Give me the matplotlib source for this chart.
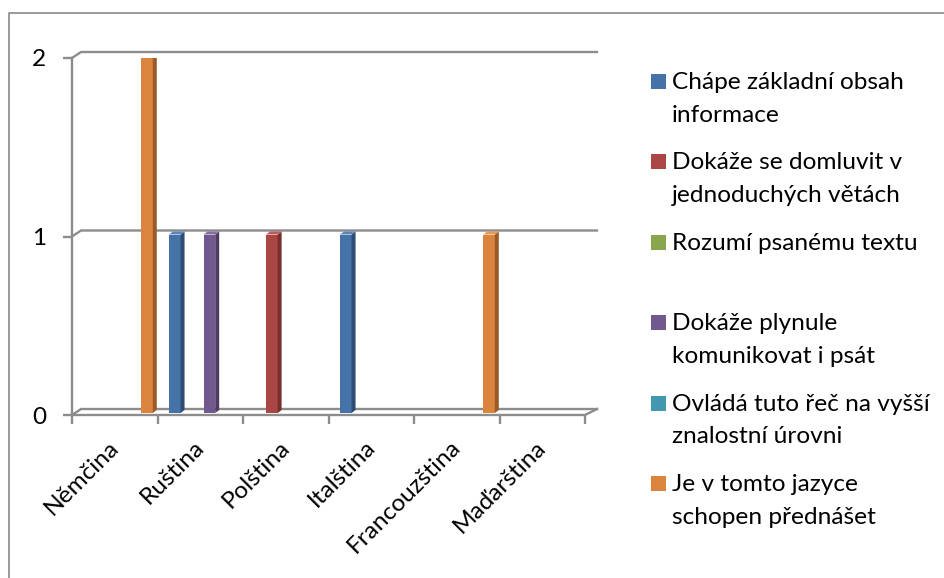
import numpy as np
import matplotlib.pyplot as plt
from matplotlib.patches import Rectangle
from matplotlib.lines import Line2D
from matplotlib import transforms

plt.rcParams['font.family'] = ['Lato', 'DejaVu Sans']

jazyky = ['Němčina', 'Ruština', 'Polština', 'Italština', 'Francouzština', 'Maďarština']
urovne = ['Chápe základní obsah\ninformace',
          'Dokáže se domluvit v\njednoduchých větách',
          'Rozumí psanému textu',
          'Dokáže plynule\nkomunikovat i psát',
          'Ovládá tuto řeč na vyšší\nznalostní úrovni',
          'Je v tomto jazyce\nschopen přednášet']
chape = [0, 1, 0, 1, 0, 0]
domluvi = [0, 0, 1, 0, 0, 0]
rozumi = [0, 0, 0, 0, 0, 0]
plynule = [0, 1, 0, 0, 0, 0]
ovlada = [0, 0, 0, 0, 0, 0]
prednasi = [2, 0, 0, 0, 1, 0]
serie = [chape, domluvi, rozumi, plynule, ovlada, prednasi]

barvy = ['#4572A7', '#AA4643', '#89A54E', '#71588F', '#4198AF', '#DB843D']
boky = ['#2E4D74', '#772F2D', '#5F7436', '#4E3D63', '#2C6A7A', '#9A5A2A']
vrchy = ['#5A86BC', '#BE5A57', '#9DBA62', '#866DA4', '#56ACC3', '#E89852']
seda = '#8C8C8C'
FS = 17.6

W, H = 944, 578
fig = plt.figure(figsize=(W / 100, H / 100), dpi=100)
ax = fig.add_axes([72 / W, 1 - 415 / H, 513 / W, 357 / H])
ax.set_xlim(0, 6)
ax.set_ylim(0, 2)

# one pixel in data units
px = 6 / 513
py = 2 / 357

# back wall gridlines and floor (pseudo 3D)
for y in [0, 1, 2]:
    ax.plot([0, 9 * px, 6 + 12 * px], [y, y + 6 * py, y + 6 * py],
            color=seda, lw=1.7, clip_on=False, solid_joinstyle='miter', zorder=1)
ax.plot([0, 6, 6 + 12 * px], [0, 0, 6 * py], color=seda, lw=1.7,
        clip_on=False, solid_joinstyle='miter', zorder=1)

for s in ['top', 'right', 'bottom']:
    ax.spines[s].set_visible(False)
ax.spines['left'].set_color(seda)
ax.spines['left'].set_linewidth(1.7)

# columns: front face from ax.bar, side and top faces as polygons
sirka = 11.55 * px
bdx, bdy = 4 * px, 3 * py
zdvih = 2 * py
for j, hodnoty in enumerate(serie):
    x0 = np.arange(len(jazyky)) + (11.5 * px + j * sirka)
    ax.bar(x0, hodnoty, width=sirka, bottom=zdvih, align='edge',
           color=barvy[j], zorder=3)
    for xa, v in zip(x0, hodnoty):
        if v == 0:
            continue
        xb = xa + sirka
        top = v + zdvih
        ax.fill([xb, xb + bdx, xb + bdx, xb], [zdvih, zdvih + bdy, top + bdy, top],
                color=boky[j], lw=0, zorder=3)
        ax.fill([xa, xa + bdx, xb + bdx, xb], [top, top + bdy, top + bdy, top],
                color=vrchy[j], lw=0, zorder=3)

ax.set_xticks(np.arange(7))
ax.set_xticklabels([])
ax.set_xticks(np.arange(6) + 0.5, minor=True)
ax.set_xticklabels(jazyky, minor=True, rotation=45, ha='right', va='baseline',
                   rotation_mode='anchor', fontsize=FS)
ax.tick_params(axis='x', which='major', length=6.5, width=1.7, color=seda)
ax.tick_params(axis='x', which='minor', length=0, pad=24)
posun = transforms.ScaledTranslation(5 / 100, 0, fig.dpi_scale_trans)
for t in ax.get_xticklabels(minor=True):
    t.set_transform(t.get_transform() + posun)

ax.set_yticks([0, 1, 2])
ax.set_yticklabels(['0', '1', '2'], fontsize=FS)
ax.tick_params(axis='y', length=6.5, width=1.7, color=seda, pad=12)

# legend: colour square + wrapped label, 32.6 px between text lines
for k, popis in enumerate(urovne):
    top = 74 + k * 80.4
    radky = popis.split('\n')
    fig.add_artist(Rectangle((651 / W, 1 - (top + 15) / H), 15 / W, 15 / H,
                             transform=fig.transFigure, color=barvy[k], lw=0))
    for r, radek in enumerate(radky):
        fig.text(672 / W, 1 - (top + 15 + r * 32.6) / H, radek, fontsize=FS,
                 va='baseline', ha='left')

# chart frame
fig.add_artist(Line2D([9 / W, 9 / W, 1], [0, 1 - 13 / H, 1 - 13 / H],
                      transform=fig.transFigure, color='#8A8A8A', lw=1.2))

fig.savefig('out.png', dpi=100)
